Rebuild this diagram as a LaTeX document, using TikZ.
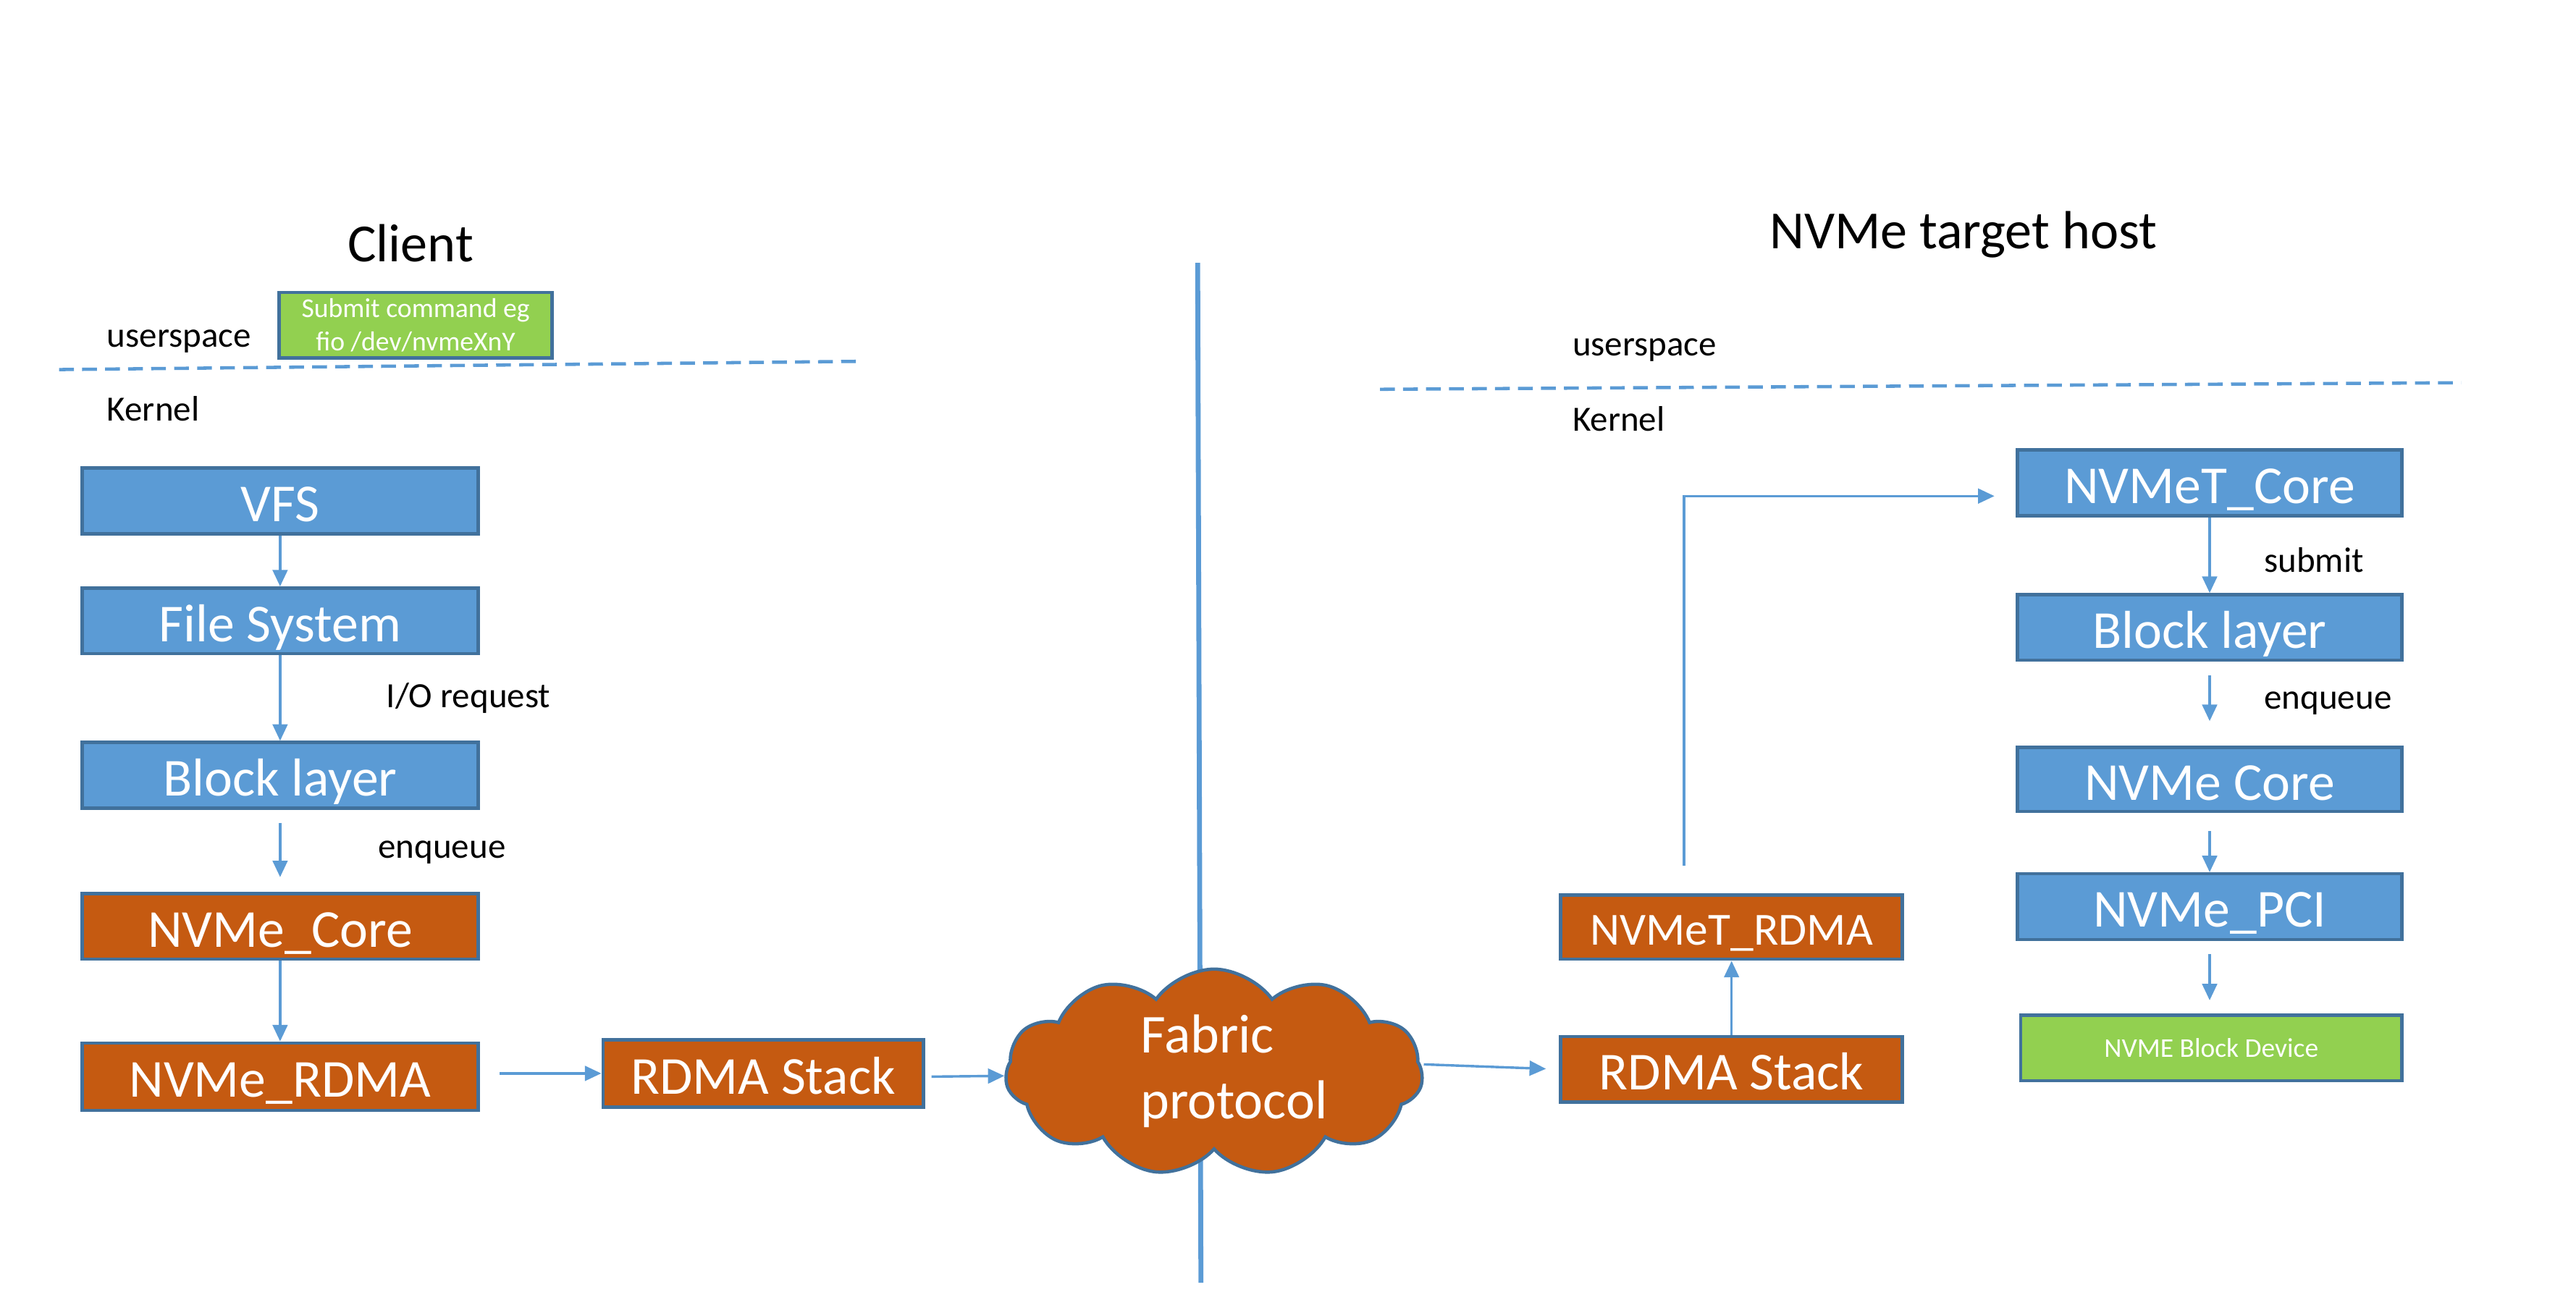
\documentclass[tikz,border=0pt]{standalone}
\usepackage{fontspec}
\setmainfont{Carlito}
\usetikzlibrary{arrows.meta,shapes.symbols,calc}
\definecolor{bluefill}{HTML}{5B9BD5}
\definecolor{edgeblue}{HTML}{41719C}
\definecolor{orangefill}{HTML}{C55A11}
\definecolor{greenfill}{HTML}{92D050}
\newcommand{\fsz}[2]{\fontsize{#1}{#2}\selectfont}
\begin{document}
\begin{tikzpicture}[x=1pt,y=-1pt,
  boxbase/.style={draw=edgeblue,line width=2pt,inner sep=0pt,text=white,font=\fsz{32.5}{38}},
  onetext/.style={text height=27.6pt,text depth=2.6pt},
  bluebox/.style={boxbase,onetext,fill=bluefill,minimum width=241pt,minimum height=40pt},
  orangebox/.style={boxbase,onetext,fill=orangefill,minimum width=241pt,minimum height=40pt},
  greenbox/.style={boxbase,fill=greenfill,font=\fsz{16.6}{20},align=center},
  lbl/.style={anchor=west,inner sep=0pt,font=\fsz{21.6}{26},text=black},
  title/.style={inner sep=0pt,font=\fsz{32.7}{38},text=black},
  arr/.style={draw=bluefill,line width=1.5pt,-{Triangle[width=9pt,length=10pt]}},
  dashline/.style={draw=bluefill,line width=2pt,dash pattern=on 9pt off 5pt},
]
\useasboundingbox (0,0) rectangle (1568,796);

% titles and labels
\node[title] (client) at (250,148) {Client};
\node[title] (target) at (1195,143) {NVMe target host};
\node[lbl] (us1) at (65,208) {userspace};
\node[lbl] (k1) at (65,249) {Kernel};
\node[lbl] (us2) at (957,213) {userspace};
\node[lbl] (k2) at (957,255) {Kernel};
\node[lbl] (ioreq) at (235,425) {I/O request};
\node[lbl] (enq1) at (230,519) {enqueue};
\node[lbl] (sub) at (1378,341) {submit};
\node[lbl] (enq2) at (1378,428) {enqueue};

% dashed separators
\coordinate (d1a) at (36,225);
\coordinate (d1b) at (522,220);
\coordinate (d2a) at (840,237);
\coordinate (d2b) at (1498,233);
\draw[dashline] (d1a) -- (d1b);
\draw[dashline] (d2a) -- (d2b);

% vertical divider
\coordinate (vtop) at (729,160);
\coordinate (vbot) at (731,781);
\draw[draw=bluefill,line width=3pt] (vtop) -- (vbot);

% client side
\node[greenbox,minimum width=166pt,minimum height=40pt] (submitcmd) at (253,198) {Submit command eg\\fio /dev/nvmeXnY};
\node[bluebox] (vfs) at (170.5,305) {VFS};
\node[bluebox] (fs) at (170.5,378) {File System};
\node[bluebox] (blk1) at (170.5,472) {Block layer};
\node[orangebox] (core1) at (170.5,564) {NVMe\_Core};
\node[orangebox,minimum height=41pt] (rdma1) at (170.5,655.5) {NVMe\_RDMA};
\node[orangebox,minimum width=195pt,minimum height=41pt] (stack1) at (464.5,653.5) {RDMA Stack};

% cloud
\node[cloud,cloud puffs=11,cloud puff arc=110,cloud ignores aspect,draw=edgeblue,line width=2pt,fill=orangefill,minimum width=254pt,minimum height=126pt,inner sep=0pt] (cloud) at (739,653) {};
\node[anchor=west,align=left,inner sep=0pt,text=white,font=\fsz{33.4}{40}] (fabric) at (694,652) {Fabric\\protocol};

% target side
\node[orangebox,minimum width=208pt,minimum height=39pt,font=\fsz{28}{33},text height=24pt,text depth=2.2pt] (trdma) at (1054,564.5) {NVMeT\_RDMA};
\node[orangebox,minimum width=208pt,minimum height=40pt] (stack2) at (1054,651) {RDMA Stack};
\node[bluebox,minimum width=234pt] (tcore) at (1345,294) {NVMeT\_Core};
\node[bluebox,minimum width=234pt] (blk2) at (1345,382) {Block layer};
\node[bluebox,minimum width=234pt,minimum height=39pt] (core2) at (1345,474.5) {NVMe Core};
\node[bluebox,minimum width=234pt] (pci) at (1345,552) {NVMe\_PCI};
\node[greenbox,minimum width=232pt,minimum height=40pt,font=\fsz{16.5}{20}] (dev) at (1346,638) {NVME Block Device};

% connectors client
\draw[arr] (vfs) -- (fs);
\draw[arr] (fs) -- (blk1);
\draw[arr,shorten <=8pt,shorten >=9pt] (blk1) -- (core1);
\draw[arr] (core1) -- (rdma1);
\draw[arr,shorten <=12pt] (rdma1.east |- stack1.west) -- (stack1.west);
\draw[arr,shorten <=4pt] ([yshift=-2pt]stack1.east) -- ([yshift=-2pt]cloud.west);
\draw[arr,shorten >=8pt] ([yshift=5pt]cloud.east) -- (stack2.west);

% connectors target
\draw[arr] (stack2) -- (trdma);
\draw[arr] ([xshift=-29pt,yshift=17pt]trdma.north) |- ([xshift=-13pt,yshift=-8pt]tcore.west);
\draw[arr] (tcore) -- (blk2);
\draw[arr,shorten <=8pt,shorten >=15pt] (blk2) -- (core2);
\draw[arr,shorten <=11pt] (core2) -- (pci);
\draw[arr,shorten <=8pt,shorten >=8pt] (pci) -- (dev.north -| pci.south);
\end{tikzpicture}
\end{document}
